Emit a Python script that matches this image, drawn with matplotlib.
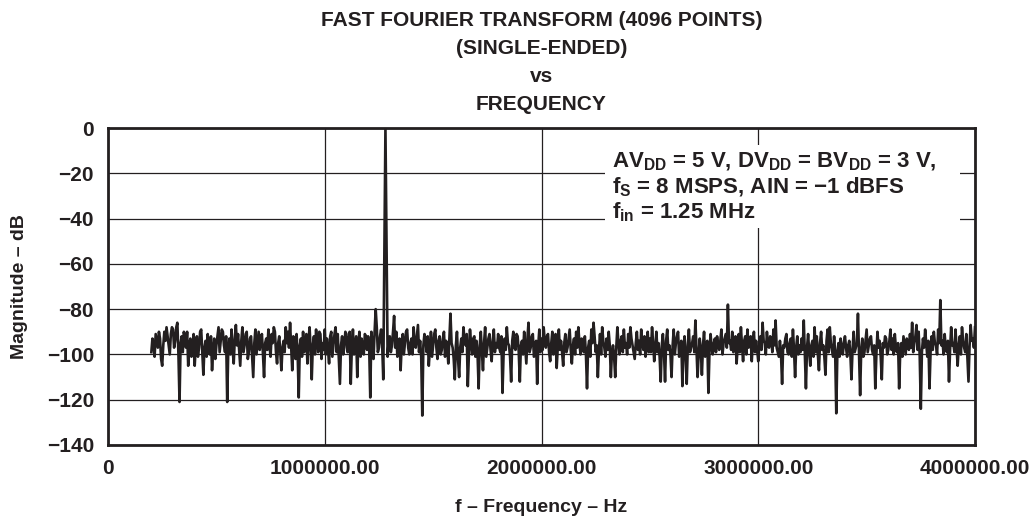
import numpy as np
import matplotlib
matplotlib.use("Agg")
import matplotlib.pyplot as plt
from matplotlib.patches import Rectangle

plt.rcParams['font.family'] = ['Liberation Sans', 'DejaVu Sans']
plt.rcParams['font.weight'] = 'bold'
plt.rcParams['mathtext.fontset'] = 'custom'
plt.rcParams['mathtext.rm'] = 'Liberation Sans:bold'
plt.rcParams['mathtext.it'] = 'Liberation Sans:bold'
plt.rcParams['mathtext.bf'] = 'Liberation Sans:bold'

# FFT bins: main bins every 10 kHz from 200 kHz,
# and in-between bins offset by 5 kHz
freq_start = 200000
freq_step = 10000
magnitude_db = [
    -99, -95, -91, -97, -93, -105, -90, -88, -96, -91,
    -89, -94, -86, -121, -92, -90, -97, -105, -93, -99,
    -105, -92, -97, -89, -109, -94, -91, -100, -107, -93,
    -96, -88, -94, -90, -99, -121, -93, -89, -104, -87,
    -91, -105, -88, -96, -90, -99, -92, -110, -89, -95,
    -98, -91, -110, -93, -89, -101, -95, -90, -104, -92,
    -107, -94, -88, -90, -86, -107, -96, -91, -119, -93,
    -90, -97, -104, -88, -111, -92, -89, -99, -91, -95,
    -89, -93, -104, -90, -96, -88, -91, -113, -92, -97,
    -91, -95, -113, -89, -96, -110, -90, -93, -100, -92,
    -92, -119, -95, -90, -88, -97, -89, -111, 0, -101,
    -92, -96, -83, -90, -98, -107, -91, -95, -89, -100,
    -93, -88, -97, -87, -94, -127, -91, -99, -105, -90,
    -96, -89, -102, -92, -98, -90, -94, -104, -82, -97,
    -111, -90, -110, -93, -88, -96, -114, -89, -100, -92,
    -94, -115, -90, -107, -88, -97, -91, -103, -89, -95,
    -91, -99, -117, -93, -88, -96, -112, -90, -98, -92,
    -112, -94, -90, -104, -86, -97, -91, -100, -113, -89,
    -93, -88, -97, -91, -103, -90, -95, -106, -89, -94,
    -105, -91, -97, -89, -104, -93, -90, -88, -100, -95,
    -92, -115, -94, -89, -86, -99, -110, -91, -88, -97,
    -93, -90, -110, -96, -110, -88, -100, -92, -89, -95,
    -91, -88, -96, -102, -90, -94, -89, -98, -101, -90,
    -93, -88, -103, -90, -95, -112, -91, -112, -89, -96,
    -110, -89, -95, -90, -98, -114, -92, -113, -89, -97,
    -92, -85, -110, -93, -109, -90, -96, -117, -91, -100,
    -93, -92, -98, -89, -95, -91, -78, -94, -90, -97,
    -104, -91, -88, -103, -92, -89, -96, -103, -90, -94,
    -103, -92, -86, -95, -90, -97, -93, -89, -85, -99,
    -94, -113, -97, -91, -100, -93, -89, -110, -92, -96,
    -93, -85, -115, -91, -105, -94, -88, -92, -107, -90,
    -96, -109, -89, -88, -98, -92, -126, -95, -93, -100,
    -92, -101, -94, -111, -90, -97, -82, -118, -93, -99,
    -89, -96, -92, -100, -115, -90, -94, -111, -97, -93,
    -98, -89, -93, -91, -99, -115, -95, -92, -100, -94,
    -91, -86, -95, -87, -90, -124, -93, -89, -101, -115,
    -92, -90, -96, -89, -76, -94, -91, -99, -112, -88,
    -95, -89, -105, -92, -88, -97, -91, -112, -87, -93,
    -88,
]
magnitude_db_mid = [
    -93, -101, -94, -90, -102, -96, -94, -92, -100, -88,
    -97, -88, -100, -95, -99, -93, -90, -96, -101, -91,
    -96, -101, -90, -99, -97, -101, -98, -92, -98, -102,
    -92, -99, -89, -96, -92, -97, -100, -98, -93, -96,
    -98, -94, -99, -91, -102, -93, -101, -95, -100, -90,
    -94, -100, -95, -98, -96, -91, -88, -99, -95, -99,
    -97, -99, -95, -97, -96, -92, -102, -100, -96, -101,
    -99, -91, -94, -98, -96, -100, -95, -90, -102, -98,
    -100, -98, -92, -101, -91, -99, -102, -96, -100, -90,
    -99, -90, -97, -100, -92, -95, -101, -97, -91, -98,
    -97, -90, -102, -80, -99, -92, -96, -55, -50, -94,
    -99, -90, -97, -101, -93, -96, -100, -90, -97, -95,
    -100, -95, -92, -99, -101, -96, -94, -92, -98, -101,
    -91, -97, -94, -100, -93, -101, -97, -93, -95, -102,
    -96, -102, -97, -99, -94, -91, -100, -95, -93, -101,
    -100, -96, -99, -95, -101, -93, -98, -94, -99, -97,
    -97, -92, -100, -98, -95, -101, -94, -97, -91, -99,
    -96, -100, -97, -93, -99, -92, -101, -94, -96, -99,
    -98, -94, -92, -99, -95, -100, -91, -97, -98, -99,
    -95, -99, -93, -98, -96, -100, -97, -95, -93, -99,
    -100, -97, -101, -95, -92, -96, -98, -100, -94, -101,
    -98, -96, -99, -101, -97, -95, -94, -99, -97, -100,
    -97, -93, -99, -95, -98, -100, -95, -92, -96, -99,
    -99, -95, -97, -99, -101, -96, -99, -94, -98, -100,
    -96, -100, -92, -101, -94, -97, -101, -96, -99, -95,
    -99, -97, -100, -98, -96, -101, -94, -99, -97, -95,
    -99, -96, -94, -100, -93, -97, -95, -98, -99, -92,
    -97, -99, -96, -94, -100, -97, -92, -95, -99, -98,
    -96, -98, -94, -100, -96, -92, -99, -96, -97, -101,
    -100, -96, -93, -99, -95, -101, -98, -97, -100, -99,
    -98, -100, -97, -99, -96, -101, -99, -100, -95, -98,
    -101, -94, -99, -95, -101, -100, -99, -101, -97, -95,
    -97, -96, -100, -98, -99, -95, -100, -98, -101, -94,
    -99, -93, -98, -96, -100, -97, -101, -95, -92, -100,
    -94, -98, -100, -97, -95, -99, -101, -96, -93, -98,
    -97, -99, -92, -98, -101, -99, -97, -95, -94, -99,
    -98, -95, -100, -95, -96, -100, -97, -94, -98, -96,
    -99, -97, -96, -100, -94, -99, -101, -96, -94, -97,
]

freq_main = freq_start + freq_step * np.arange(len(magnitude_db))
freq_mid = freq_start + freq_step // 2 + freq_step * np.arange(len(magnitude_db_mid))
freq_all = np.concatenate([freq_main, freq_mid])
mag_all = np.concatenate([magnitude_db, magnitude_db_mid])
order = np.argsort(freq_all)
freq_hz = freq_all[order]
mag = mag_all[order]

x_ticks = [0, 1000000, 2000000, 3000000, 4000000]
x_tick_labels = ['0', '1000000.00', '2000000.00', '3000000.00', '4000000.00']
y_ticks = [0, -20, -40, -60, -80, -100, -120, -140]
y_tick_labels = ['0', '\u221220', '\u221240', '\u221260', '\u221280', '\u2212100', '\u2212120', '\u2212140']

title_lines = ['FAST FOURIER TRANSFORM (4096 POINTS)', '(SINGLE-ENDED)', 'vs', 'FREQUENCY']
annotation_lines = [
    r'AV$_{\rm DD}$ = 5 V, DV$_{\rm DD}$ = BV$_{\rm DD}$ = 3 V,',
    'f$_{\\rm S}$ = 8 MSPS, AIN = \u22121 dBFS',
    r'f$_{\rm in}$ = 1.25 MHz',
]

W, H = 1033, 522
fig = plt.figure(figsize=(W / 100, H / 100), dpi=100)
L, R, T, B = 108, 975, 128, 445
ax = fig.add_axes([L / W, 1 - B / H, (R - L) / W, (B - T) / H])

ink = '#231f20'
ax.plot(freq_hz, mag, color=ink, lw=1.9, zorder=3)

ax.set_xlim(0, 4000000)
ax.set_ylim(-140, 0)
ax.set_xticks(x_ticks)
ax.set_xticklabels(x_tick_labels)
ax.set_yticks(y_ticks)
ax.set_yticklabels(y_tick_labels)
ax.tick_params(length=0, labelsize=15, colors=ink)
ax.tick_params(axis='x', pad=10)
ax.tick_params(axis='y', pad=10)
for lbl in ax.get_xticklabels() + ax.get_yticklabels():
    lbl.set_fontweight('bold')
ax.set_axisbelow(True)
ax.grid(True, color=ink, lw=0.9)
for s in ax.spines.values():
    s.set_linewidth(2.0)
    s.set_color(ink)
    s.set_zorder(4)

# axis labels placed at their pixel positions
fig.text((L + R) / 2 / W, 1 - 507 / H, 'f \u2013 Frequency \u2013 Hz', ha='center', va='center',
         fontsize=14, fontweight='bold', color=ink)
fig.text(20 / W, 1 - (T + B) / 2 / H, 'Magnitude \u2013 dB', ha='center', va='center',
         rotation=90, fontsize=14, fontweight='bold', color=ink)

# title lines
cx = (L + R) / 2 / W
for i, t in enumerate(title_lines):
    fig.text(cx, 1 - (20 + 28 * i) / H, t, ha='center', va='center',
             fontsize=15, fontweight='bold', color=ink)

# annotation block with white background
x0 = (605 - L) / (R - L)
x1 = (960 - L) / (R - L)
y0 = (B - 228) / (B - T)
y1 = (B - 145) / (B - T)
ax.add_patch(Rectangle((x0, y0), x1 - x0, y1 - y0, transform=ax.transAxes,
                       facecolor='white', edgecolor='none', zorder=2))
for t, yb in zip(annotation_lines, [167, 193, 218]):
    ax.text((612 - L) / (R - L), (B - yb) / (B - T), t, transform=ax.transAxes,
            ha='left', va='baseline', fontsize=16, fontweight='bold', color=ink, zorder=5)

fig.savefig('out.png', dpi=100)
